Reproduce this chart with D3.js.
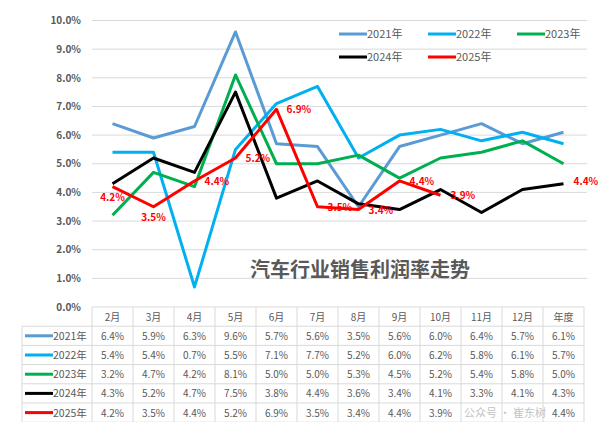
<!DOCTYPE html>
<html>
<head>
<meta charset="utf-8">
<script src="https://cdn.jsdelivr.net/npm/d3@7"></script>
<style>
  body { margin: 0; background: #fff; }
  svg { display: block; font-family: "Noto Sans CJK SC", "Noto Sans", sans-serif; }
</style>
</head>
<body>
<div id="chart"></div>
<script>
// --- Data ---
const months = ["2月", "3月", "4月", "5月", "6月", "7月", "8月", "9月", "10月", "11月", "12月", "年度"];
const years = ["2021年", "2022年", "2023年", "2024年", "2025年"];
const colors = ["#5b9bd5", "#00b0f0", "#00b050", "#000000", "#ff0000"];

const v2021 = [6.4, 5.9, 6.3, 9.6, 5.7, 5.6, 3.5, 5.6, 6.0, 6.4, 5.7, 6.1];
const v2022 = [5.4, 5.4, 0.7, 5.5, 7.1, 7.7, 5.2, 6.0, 6.2, 5.8, 6.1, 5.7];
const v2023 = [3.2, 4.7, 4.2, 8.1, 5.0, 5.0, 5.3, 4.5, 5.2, 5.4, 5.8, 5.0];
const v2024 = [4.3, 5.2, 4.7, 7.5, 3.8, 4.4, 3.6, 3.4, 4.1, 3.3, 4.1, 4.3];
const v2025 = [4.2, 3.5, 4.4, 5.2, 6.9, 3.5, 3.4, 4.4, 3.9, null, null, 4.4];
const series = [v2021, v2022, v2023, v2024, v2025];

const yTicks = [0, 1, 2, 3, 4, 5, 6, 7, 8, 9, 10];
const title = "汽车行业销售利润率走势";

// --- Setup ---
const width = 599, height = 422;
const svg = d3.select("#chart").append("svg")
    .attr("width", width)
    .attr("height", height);

const plotLeft = 92, plotRight = 584;
const x = d3.scaleBand().domain(months).range([plotLeft, plotRight]);
const y = d3.scaleLinear().domain([0, 10]).range([307, 20.5]);
const cx = m => x(m) + x.bandwidth() / 2;

// gridlines
svg.append("g").selectAll("line")
    .data(yTicks.filter(t => t > 0))
    .join("line")
    .attr("x1", plotLeft).attr("x2", 587)
    .attr("y1", d => y(d)).attr("y2", d => y(d))
    .attr("stroke", "#d9d9d9").attr("stroke-width", 1);

// y axis labels
const yAxis = d3.axisLeft(y).tickValues(yTicks).tickSize(0).tickPadding(0)
    .tickFormat(d => d.toFixed(1) + "%");
svg.append("g")
    .attr("transform", "translate(81,0)")
    .call(yAxis)
    .call(g => g.select(".domain").remove())
    .call(g => g.selectAll("text")
        .attr("fill", "#595959")
        .attr("font-size", 10)
        .attr("font-weight", "bold")
        .attr("font-family", "Noto Sans CJK SC, sans-serif"));

// title
svg.append("text")
    .attr("x", 360).attr("y", 277)
    .attr("text-anchor", "middle")
    .attr("font-size", 20)
    .attr("font-weight", "bold")
    .attr("fill", "#595959")
    .text(title);

// lines
const line = d3.line()
    .defined(d => d.v != null)
    .x(d => cx(d.m))
    .y(d => y(d.v));

series.forEach((vals, i) => {
    const pts = months.map((m, j) => ({ m, v: vals[j] }));
    svg.append("path")
        .datum(pts)
        .attr("fill", "none")
        .attr("stroke", colors[i])
        .attr("stroke-width", 3)
        .attr("stroke-linejoin", "round")
        .attr("d", line);
});

// data labels for 2025
const labelPos = ["below", "below", "right", "right", "right", "right", "right", "right", "right", null, null, "right"];
v2025.forEach((v, j) => {
    if (v == null) return;
    const px = cx(months[j]), py = y(v);
    const below = labelPos[j] === "below";
    svg.append("text")
        .attr("x", below ? px : px + 10)
        .attr("y", below ? py + 14 : py + 4)
        .attr("text-anchor", below ? "middle" : "start")
        .attr("font-size", 10)
        .attr("font-weight", "bold")
        .attr("fill", "#ff0000")
        .text(v.toFixed(1) + "%");
});

// legend
const legendPos = [[339, 34], [428, 34], [517, 34], [339, 57], [428, 57]];
years.forEach((yr, i) => {
    const [lx, ly] = legendPos[i];
    svg.append("line")
        .attr("x1", lx).attr("x2", lx + 28)
        .attr("y1", ly).attr("y2", ly)
        .attr("stroke", colors[i]).attr("stroke-width", 3);
    svg.append("text")
        .attr("x", lx + 28).attr("y", ly + 4)
        .attr("font-size", 11)
        .attr("fill", "#595959")
        .text(yr);
});

// --- Table ---
const tableTop = 307, rowH = 19.2;
const tableLeft = 22;
const table = svg.append("g");
const border = "#d9d9d9";

// header row
table.append("line")
    .attr("x1", plotLeft).attr("x2", plotRight)
    .attr("y1", tableTop).attr("y2", tableTop)
    .attr("stroke", border);
months.forEach(m => {
    table.append("text")
        .attr("x", cx(m)).attr("y", tableTop + 14)
        .attr("text-anchor", "middle")
        .attr("font-size", 10)
        .attr("fill", "#595959")
        .text(m);
});

// horizontal row lines
for (let r = 1; r <= years.length + 1; r++) {
    table.append("line")
        .attr("x1", tableLeft).attr("x2", plotRight)
        .attr("y1", tableTop + r * rowH).attr("y2", tableTop + r * rowH)
        .attr("stroke", border);
}
// vertical column lines
months.forEach((m, j) => {
    table.append("line")
        .attr("x1", x(m)).attr("x2", x(m))
        .attr("y1", tableTop).attr("y2", height)
        .attr("stroke", border);
});
table.append("line")
    .attr("x1", plotRight).attr("x2", plotRight)
    .attr("y1", tableTop).attr("y2", height)
    .attr("stroke", border);
table.append("line")
    .attr("x1", tableLeft).attr("x2", tableLeft)
    .attr("y1", tableTop + rowH).attr("y2", height)
    .attr("stroke", border);

years.forEach((yr, i) => {
    const ry = tableTop + (i + 1) * rowH + rowH / 2;
    table.append("line")
        .attr("x1", 25).attr("x2", 53)
        .attr("y1", ry).attr("y2", ry)
        .attr("stroke", colors[i]).attr("stroke-width", 3);
    table.append("text")
        .attr("x", 53).attr("y", ry + 4)
        .attr("font-size", 10.5)
        .attr("fill", "#595959")
        .text(yr);
    series[i].forEach((v, j) => {
        if (v == null) return;
        table.append("text")
            .attr("x", cx(months[j])).attr("y", ry + 4)
            .attr("text-anchor", "middle")
            .attr("font-size", 10)
            .attr("fill", "#595959")
            .text(v.toFixed(1) + "%");
    });
});

// watermark (kept in the empty 2025 cells)
svg.append("text")
    .attr("x", 464).attr("y", 417)
    .attr("font-size", 11)
    .attr("fill", "#9a9a9a")
    .attr("opacity", 0.6)
    .text("公众号 · 崔东树");
</script>
</body>
</html>
